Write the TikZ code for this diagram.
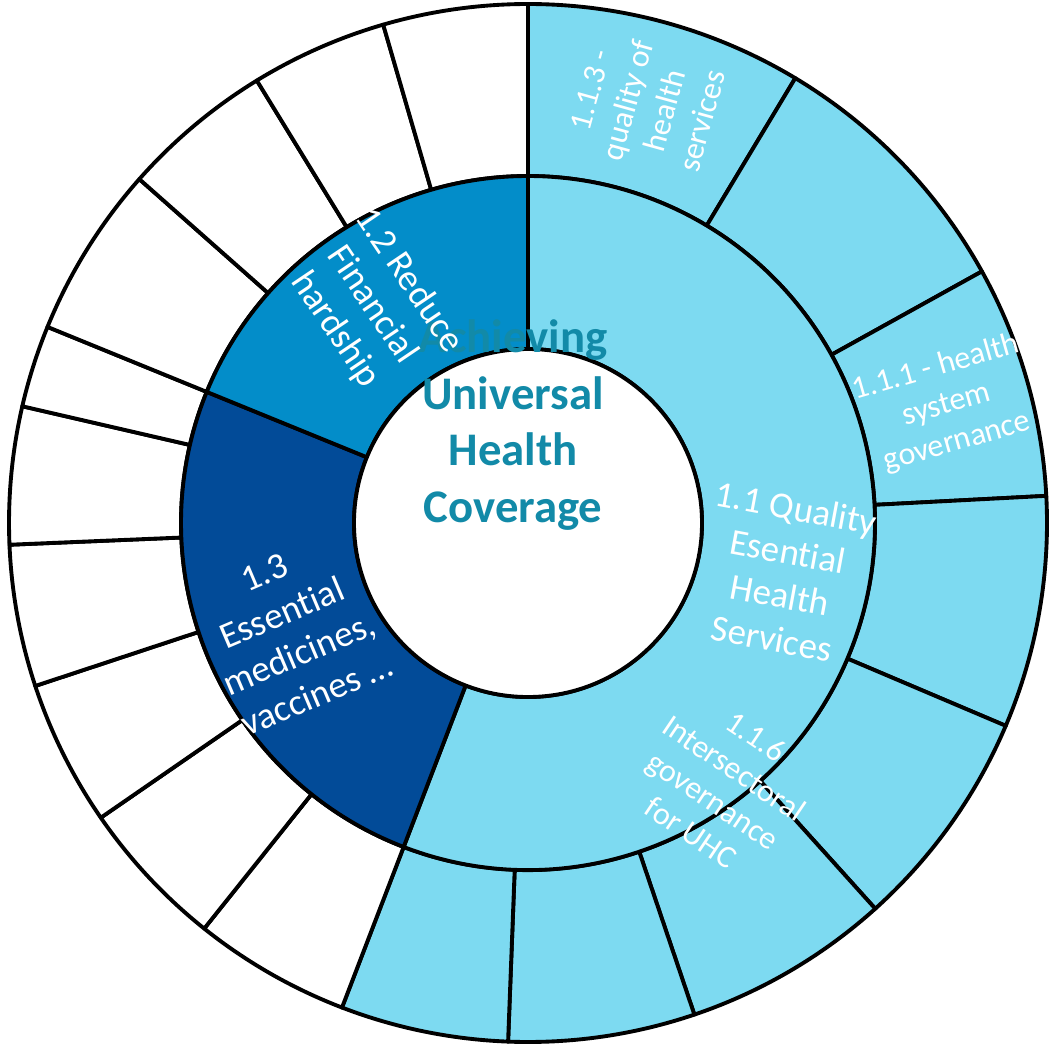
\documentclass[tikz,border=0pt]{standalone}
\usepackage{fontspec}
\setmainfont{Carlito}[Ligatures=NoCommon]

\definecolor{uhcteal}{RGB}{18,138,168}
\definecolor{lightsky}{RGB}{125,218,241}
\definecolor{midblue}{RGB}{3,141,201}
\definecolor{deepblue}{RGB}{2,75,152}

\newcommand{\hubfont}{\fontsize{13.3}{16.1}\selectfont}
\newcommand{\midfont}{\fontsize{10.5}{12.6}\selectfont}
\newcommand{\rimfont}{\fontsize{9.1}{11}\selectfont}

% annular piece: start angle, end angle, inner radius, outer radius, fill
\newcommand{\ringpart}[5]{%
	\filldraw[seg,fill=#5] (#1:#3) arc[start angle=#1,end angle=#2,radius=#3]
	-- (#2:#4) arc[start angle=#2,end angle=#1,radius=#4] -- cycle;}

\begin{document}
\begin{tikzpicture}[
		seg/.style={draw=black,line width=1.1pt,line join=round},
		lbl/.style={text=white,align=center,inner sep=0pt}]
	\useasboundingbox (-5.28,-5.21) rectangle (5.23,5.23);

	% outer ring
	\foreach \a/\b/\c in {90/59/lightsky,59/29/lightsky,29/3/lightsky,3/-23/lightsky,
		-23/-48/lightsky,-48/-71.3/lightsky,-71.3/-92.2/lightsky,-92.2/-111/lightsky,
		-111/-128.6/white,-128.6/-145.4/white,-145.4/-161.7/white,-161.7/-177.6/white,
		-177.6/-193/white,-193/-202.2/white,
		-202.2/-221.5/white,-221.5/-238.5/white,-238.5/-253.8/white,-253.8/-270/white}
		\ringpart{\a}{\b}{3.47}{5.19}{\c};

	% middle ring
	\ringpart{90}{-111}{1.74}{3.47}{lightsky}
	\ringpart{-111}{-202.2}{1.74}{3.47}{deepblue}
	\ringpart{-202.2}{-270}{1.74}{3.47}{midblue}

	\filldraw[seg,fill=white] (0,0) circle[radius=1.74];

	\node[font=\hubfont\bfseries,text=uhcteal,align=center,inner sep=0pt] (hub) at (-0.15,0.98)
		{Achieving\\Universal\\Health\\Coverage};

	\node[lbl,font=\midfont,rotate=-10.5] (q11) at (-11.1:2.607) {1.1 Quality\\Esential\\Health\\Services};
	\node[lbl,font=\midfont,rotate=-56] (q12) at (125.6:2.68) {1.2 Reduce\\Financial\\hardship};
	\node[lbl,font=\midfont,rotate=23] (q13) at (205.0:2.62) {1.3\\Essential\\medicines,\\vaccines …};

	\node[lbl,font=\rimfont,rotate=74.5] (q113) at (74.2:4.34) {1.1.3 -\\quality of\\health\\services};
	\node[lbl,font=\rimfont,rotate=16] (q111) at (15.75:4.35) {1.1.1 - health\\system\\governance};
	\node[lbl,font=\rimfont,rotate=-34] (q116) at (-53.2:3.265) {1.1.6\\Intersectoral\\governance\\for UHC};
\end{tikzpicture}
\end{document}
